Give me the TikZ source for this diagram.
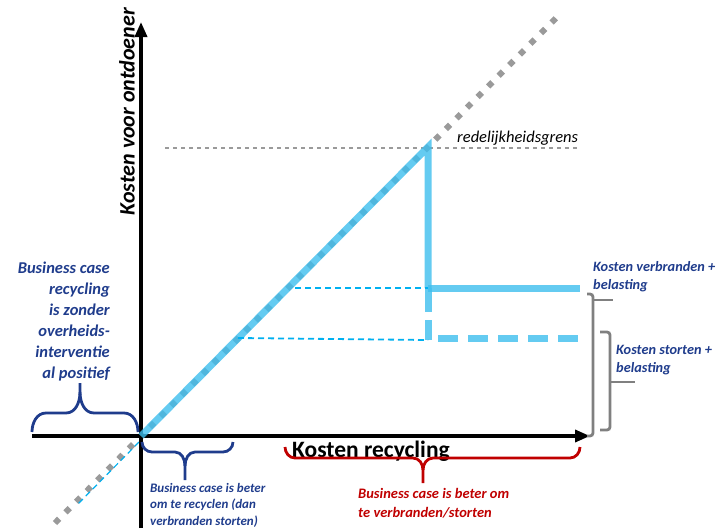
\documentclass[tikz,border=0pt]{standalone}
\usepackage{fontspec}
\setmainfont{Carlito}
\usetikzlibrary{arrows.meta}
\definecolor{lineblue}{HTML}{3DBEEE}
\definecolor{helpblue}{HTML}{00B0F0}
\definecolor{textblue}{HTML}{1F3C8C}
\definecolor{textred}{HTML}{C00000}
\definecolor{dotgray}{HTML}{9A9A9A}

\begin{document}
\begin{tikzpicture}[x=1pt, y=-1pt,
	axis/.style = {line width=3.5pt, -{Triangle[length=15pt,width=12pt]}},
	costline/.style = {line width=7pt, lineblue, opacity=0.8},
	helpline/.style = {line width=1.8pt, helpblue, dash pattern=on 6pt off 4pt},
	dotline/.style = {dotgray, dash pattern=on 6pt off 9pt},
	bracebox/.style = {line width=2.8pt},
	note/.style = {font=\bfseries\itshape, inner sep=0pt}]
\useasboundingbox (0,0) rectangle (717,530);

% punten
\coordinate (O) at (141,436);
\coordinate (ybot) at (141,528);
\coordinate (ytop) at (141,22);
\coordinate (xbeg) at (32,436);
\coordinate (xend) at (590,436);
\coordinate (peak) at (428,147);
\coordinate (vb) at (428,288);
\coordinate (st) at (428,340);

% hulplijnen
\draw[dotline, line width=6pt] (55,523) -- (556,18);
\draw[dotline, line width=2.5pt, dash pattern=on 4pt off 4pt] (165,148) -- (580,148);
\draw[helpline, line width=1.2pt] (139,442) -- (76,506);

% assen
\draw[axis] (ybot) -- (ytop);
\draw[axis] (xbeg) -- (xend);

% kostenlijnen
\draw[costline] (O) -- (peak) -- (vb);
\draw[costline, dash pattern=on 24pt off 8pt on 20pt off 40pt] (vb) -- (st);
\draw[costline] (vb) -- (580,288);
\draw[costline, dash pattern=on 20pt off 10pt] (438,338) -- (578,338);
\draw[helpline] (295,288) -- (vb);
\draw[helpline] (238,338) -- (st);

% teksten
\node[note, rotate=90, font=\bfseries\itshape\fontsize{22}{26}\selectfont, anchor=east]
	(ylab) at (127,8) {Kosten voor ontdoener};
\node[inner sep=0pt, font=\bfseries\fontsize{23.5}{28}\selectfont, anchor=west]
	(xlab) at (292,451) {Kosten recycling};
\node[inner sep=0pt, font=\itshape\fontsize{16.5}{20}\selectfont, anchor=west]
	(grens) at (457,138) {redelijkheidsgrens};

\node[note, textblue, align=right, anchor=north east, font=\bfseries\itshape\fontsize{16.5}{21}\selectfont]
	(zonder) at (110,262) {Business case\\recycling\\is zonder\\overheids-\\interventie\\al positief};
\node[note, textblue, align=left, anchor=north west, font=\bfseries\itshape\fontsize{13}{16.5}\selectfont]
	(recyclen) at (150,483) {Business case is beter\\om te recyclen (dan\\verbranden storten)};
\node[note, textred, align=left, anchor=north west, font=\bfseries\itshape\fontsize{14.5}{19}\selectfont]
	(verbranden) at (358,488) {Business case is beter om\\te verbranden/storten};
\node[note, textblue, align=left, anchor=north west, font=\bfseries\itshape\fontsize{14.3}{18}\selectfont]
	(kverbr) at (593,261) {Kosten verbranden +\\belasting};
\node[note, textblue, align=left, anchor=north west, font=\bfseries\itshape\fontsize{14.3}{18}\selectfont]
	(kstort) at (616,345) {Kosten storten +\\belasting};

% accolades
\draw[bracebox, textblue] (32,432) to[out=90,in=180] (46,413) -- (66,413)
	to[out=0,in=-90] (80,392) -- (80,383);
\draw[bracebox, textblue] (80,392) to[out=-90,in=180] (94,413) -- (124,413)
	to[out=0,in=90] (138,432);
\draw[bracebox, textblue] (142,442) to[out=-90,in=180] (152,452) -- (175,452)
	to[out=0,in=90] (185,466) -- (185,480);
\draw[bracebox, textblue] (185,466) to[out=90,in=180] (195,452) -- (223,452)
	to[out=0,in=-90] (233,442);
\draw[bracebox, textred] (285,447) to[out=-90,in=180] (295,458) -- (413,458)
	to[out=0,in=90] (423,470) -- (423,483);
\draw[bracebox, textred] (423,470) to[out=90,in=180] (433,458) -- (570,458)
	to[out=0,in=-90] (580,447);
\draw[bracebox, gray, rounded corners=3pt] (587,294) -- (593,294) -- (593,436) -- (587,436);
\draw[bracebox, gray] (593,300) -- (613,300);
\draw[bracebox, gray, rounded corners=3pt] (600,332) -- (610,332) -- (610,430) -- (600,430);
\draw[bracebox, gray] (610,382) -- (635,382);
\end{tikzpicture}
\end{document}
